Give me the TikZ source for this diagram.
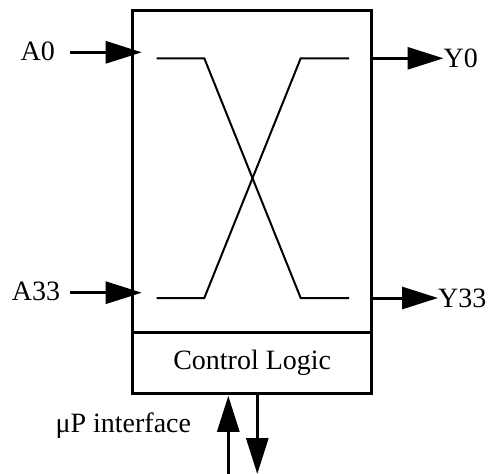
\documentclass[tikz,border=0pt]{standalone}
\usepackage{fontspec}
\setmainfont{Liberation Serif}
\usetikzlibrary{arrows.meta}
\begin{document}
\begin{tikzpicture}[x=1pt,y=-1pt,
  lbl/.style={font=\fontsize{28}{31}\selectfont, inner sep=0pt},
  blk/.style={draw, line width=3pt, inner sep=0pt, outer sep=0pt},
  arr/.style={line width=3pt, -{Triangle[length=36pt,width=22pt]}},
  wire/.style={line width=2pt}]
\useasboundingbox (0,0) rectangle (488,474);
% blocks
\node[blk, minimum width=239pt, minimum height=322pt] (sw) at (252.2,171.7) {};
\node[blk, minimum width=239pt, minimum height=61pt, font=\fontsize{28}{31}\selectfont] (ctl) at (252.2,363.3) {Control Logic};
% labels
\node[lbl] (A0) at (37.8,51.5) {A0};
\node[lbl] (A33) at (36,291) {A33};
\node[lbl, anchor=west] (Y0) at (443.5,58.3) {Y0};
\node[lbl, anchor=west] (Y33) at (438,298) {Y33};
\node[lbl, anchor=base] (up) at (123.3,432) {μP interface};
% connector ends
\coordinate (a0s) at (70,52.3);
\coordinate (a0t) at (141.7,52.3);
\coordinate (a33s) at (70,292.7);
\coordinate (a33t) at (141.7,292.7);
\coordinate (ups) at (228.3,474);
\coordinate (dnt) at (257.3,474);
% arrows
\draw[arr] (a0s) -- (a0t);
\draw[arr] (a33s) -- (a33t);
\draw[arr] (sw.east |- 0,58.3) -- (Y0.west);
\draw[arr] (sw.east |- 0,298) -- (Y33.west);
\draw[arr] (ups) -- (ups |- 0,395.8);
\draw[arr] (ctl.south -| dnt) -- (dnt);
% crossbar wires
\draw[wire] (156.7,58.3) -- (204.3,58.3) -- (300.7,298) -- (349,298);
\draw[wire] (156.7,298) -- (204.3,298) -- (300.7,58.3) -- (349,58.3);
\end{tikzpicture}
\end{document}
